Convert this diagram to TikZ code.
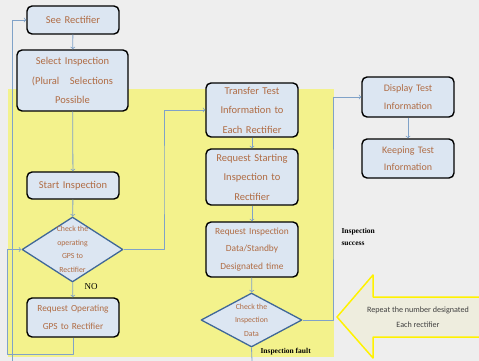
\documentclass[tikz,border=0pt]{standalone}
\usepackage{fontspec}
\setmainfont{Carlito}
\newfontfamily\tmsfont{Liberation Serif}
\usetikzlibrary{shapes.geometric}
\definecolor{boxblue}{RGB}{220,230,242}
\definecolor{txtbrown}{RGB}{176,108,68}
\definecolor{flowblue}{RGB}{128,162,200}
\definecolor{diaedge}{RGB}{64,104,152}
\definecolor{zoneyel}{RGB}{243,242,140}
\definecolor{arrowfill}{RGB}{238,237,222}
\definecolor{bggray}{RGB}{238,238,238}
\begin{document}
\begin{tikzpicture}[x=1pt, y=-1pt, >=to, line join=round,
	stepbox/.style={draw=black, line width=1.4pt, rounded corners=5pt, fill=boxblue,
		text=txtbrown, align=center, inner xsep=0pt, inner ysep=0pt,
		text width=#1, font=\fontsize{10.5}{19.5}\selectfont},
	stepbox/.default=92pt,
	decision/.style={draw=diaedge, line width=1.3pt, fill=boxblue, shape=diamond,
		inner sep=0pt, minimum width=101pt},
	dtext/.style={text=txtbrown, align=center, font=\fontsize{7.8}{13.5}\selectfont},
	flow/.style={->, draw=flowblue, line width=0.8pt},
	note/.style={font=\tmsfont\bfseries\fontsize{7.5}{12}\selectfont, align=left}]
	\useasboundingbox (0,0) rectangle (479,361);
	\fill[bggray] (0,0) rectangle (479,361);
	\fill[zoneyel] (8,89) rectangle (334,357);
	% left column
	\node[stepbox, minimum height=28pt] (see) at (73,20) {See Rectifier};
	\node[stepbox=111pt, minimum height=61pt] (sel) at (72.5,80.5) {Select Inspection\\(Plural\ \ \ Selections\\Possible};
	\node[stepbox, minimum height=27pt] (start) at (73,185.5) {Start Inspection};
	\node[decision, minimum height=65pt] (chkgps) at (72.5,249.5) {};
	\node[dtext] (chkgpstxt) at (chkgps) {Check the\\operating\\GPS to\\Rectifier};
	\node[stepbox, minimum height=39pt, font=\fontsize{9.3}{18}\selectfont] (reqgps) at (73,317.5) {Request Operating\\GPS to Rectifier};
	% middle column
	\node[stepbox, minimum height=54pt] (transfer) at (252,110) {Transfer Test\\Information to\\Each Rectifier};
	\node[stepbox, minimum height=56pt] (reqstart) at (252,177) {Request Starting\\Inspection to\\Rectifier};
	\node[stepbox, minimum height=55pt, font=\fontsize{9.4}{17.5}\selectfont] (reqdata) at (252,249.5) {Request Inspection\\Data/Standby\\Designated time};
	\node[decision, minimum height=54pt] (chkdata) at (251.5,320) {};
	\node[dtext] (chkdatatxt) at (chkdata) {Check the\\Inspection\\Data};
	% right column
	\node[stepbox, minimum height=40pt, font=\fontsize{10}{17.5}\selectfont] (display) at (408,97) {Display Test\\Information};
	\node[stepbox, minimum height=39pt, font=\fontsize{10}{17.5}\selectfont] (keep) at (408,158.5) {Keeping Test\\Information};
	% repeat arrow
	\draw[yellow, line width=1.5pt, fill=arrowfill] (479,297) -- (373,297) -- (373,275) -- (337,317)
		-- (373,358) -- (373,337) -- (479,337);
	\node[text=black!75, align=center, font=\fontsize{8.1}{15}\selectfont] (repeat) at (418,317) {Repeat the number designated\\Each rectifier};
	% labels
	\node[note, anchor=west, font=\tmsfont\fontsize{9}{12}\selectfont] (nolbl) at (81,287) {NO};
	\node[note, anchor=west] (faultlbl) at (257,352) {Inspection fault};
	\node[note, anchor=north west] (oklbl) at (338,225) {Inspection\\success};
	% connectors
	\coordinate (back) at (12,361);
	\coordinate (fault) at (252,361);
	\draw[flow] (see) -- (sel);
	\draw[flow] (sel) -- (start);
	\draw[flow] (start) -- (chkgps);
	\draw[flow] (chkgps) -- (reqgps);
	\draw[flow] (reqgps.south) -- (73,354) -| (7,249.5) -- (chkgps.west);
	\draw[flow] (chkgps.east) -| (164,180) |- (transfer.west);
	\draw[flow] (transfer) -- (reqstart);
	\draw[flow] (reqstart) -- (reqdata);
	\draw[flow] (reqdata) -- (chkdata);
	\draw[flow] (chkdata.east) -| (333,200) |- (display.west);
	\draw[flow] (display) -- (keep);
	\draw[flowblue, line width=0.8pt] (chkdata.south) -- (fault);
	\draw[flow] (back) |- (see.west);
\end{tikzpicture}
\end{document}
